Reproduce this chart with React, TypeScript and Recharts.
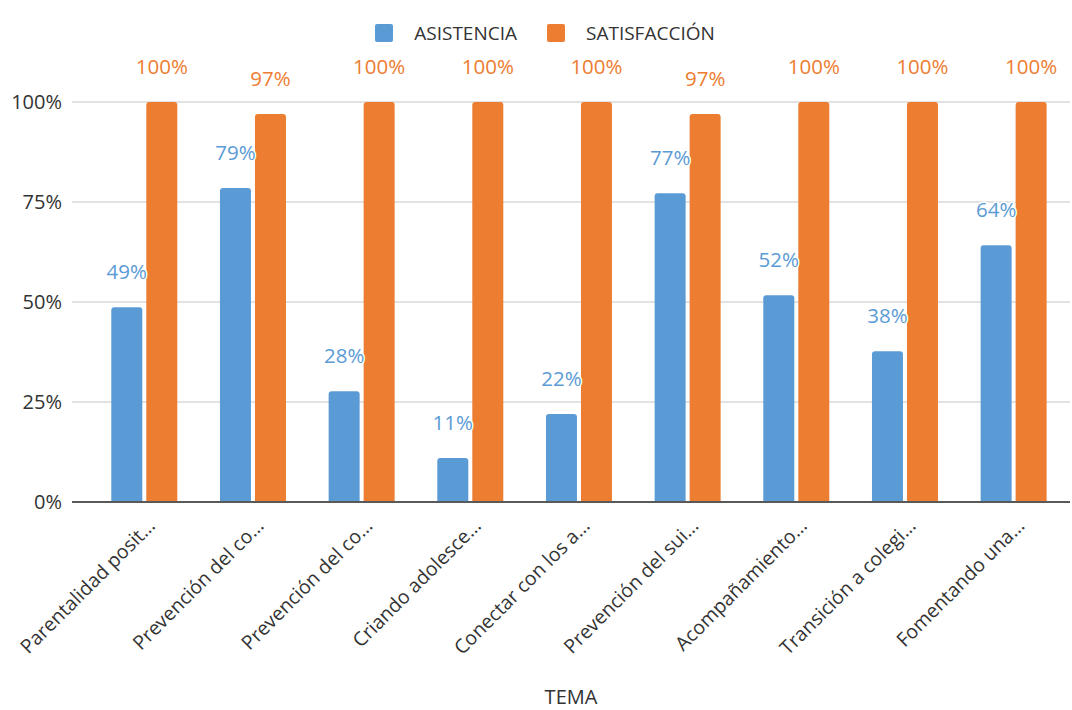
import React from 'react';
import { BarChart, Bar, XAxis, YAxis, CartesianGrid, Legend, LabelList } from 'recharts';

const temas = [
  'Parentalidad posit…',
  'Prevención del co…',
  'Prevención del co…',
  'Criando adolesce…',
  'Conectar con los a…',
  'Prevención del sui…',
  'Acompañamiento…',
  'Transición a colegi…',
  'Fomentando una…',
];
const asistencia = [0.487, 0.785, 0.277, 0.11, 0.22, 0.772, 0.517, 0.377, 0.642];
const satisfaccion = [1, 0.97, 1, 1, 1, 0.97, 1, 1, 1];
const yTicks = [0, 0.25, 0.5, 0.75, 1];

const BLUE = '#5B9BD5';
const ORANGE = '#ED7D31';
const FONT = '"Open Sans", "Noto Sans", sans-serif';

const data = temas.map((tema, i) => ({
  key: `${i}`,
  tema,
  asistencia: asistencia[i],
  satisfaccion: satisfaccion[i],
}));

const TemaTick = ({ x, y, payload, index }: any) => {
  const tx = x + 12;
  const ty = y + 25;
  return (
    <text
      x={tx}
      y={ty}
      transform={`rotate(-45, ${tx}, ${ty})`}
      textAnchor="end"
      fontSize={19.5}
      fill="#333"
      fontFamily={FONT}
    >
      {temas[index] ?? payload.value}
    </text>
  );
};

const makeLabel = (color: string) => (props: any) => {
  const { x, y, width, value } = props;
  return (
    <text
      x={x + width / 2}
      y={y - 28}
      textAnchor="middle"
      fontSize={20.5}
      fontFamily={FONT}
      fill={color}
      stroke="#fff"
      strokeWidth={3}
      paintOrder="stroke"
    >
      {Math.round(value * 100)}%
    </text>
  );
};

const LegendBox = () => (
  <div style={{ display: 'flex', justifyContent: 'center', paddingLeft: 18, fontFamily: FONT, fontSize: 19, color: '#333' }}>
    {[
      { name: 'ASISTENCIA', color: BLUE },
      { name: 'SATISFACCIÓN', color: ORANGE },
    ].map((it, i) => (
      <div key={it.name} style={{ display: 'flex', alignItems: 'center', marginLeft: i ? 30 : 0 }}>
        <span style={{ width: 18, height: 18, background: it.color, borderRadius: 2, marginRight: 21, display: 'inline-block' }} />
        <span>{it.name}</span>
      </div>
    ))}
  </div>
);

export default function App() {
  return (
    <div style={{ position: 'absolute', left: 0, top: 0, background: '#fff' }}>
      <BarChart
        width={1072}
        height={710}
        data={data}
        margin={{ top: 102, right: 2, left: 0, bottom: 0 }}
        barCategoryGap="19.6%"
        barGap={4}
      >
        <CartesianGrid vertical={false} stroke="#d9d9d9" strokeWidth={1.5} />
        <XAxis
          dataKey="key"
          height={208}
          padding={{ left: 18, right: 2 }}
          tickSize={0}
          tickMargin={0}
          tickLine={false}
          axisLine={{ stroke: '#595959', strokeWidth: 2 }}
          tick={<TemaTick />}
          interval={0}
          label={{ value: 'TEMA', position: 'insideBottom', offset: 6, fontSize: 20, fill: '#333', fontFamily: FONT }}
        />
        <YAxis
          domain={[0, 1]}
          ticks={yTicks}
          width={72}
          tickSize={0}
          tickMargin={10}
          axisLine={false}
          tickLine={false}
          tickFormatter={(v: number) => `${Math.round(v * 100)}%`}
          tick={{ fontSize: 20, fill: '#333', fontFamily: FONT }}
        />
        <Legend
          layout="horizontal"
          verticalAlign="middle"
          align="center"
          wrapperStyle={{ top: 20, left: 0, width: 1072 }}
          content={<LegendBox />}
        />
        <Bar dataKey="asistencia" name="ASISTENCIA" fill={BLUE} radius={[3, 3, 0, 0]} isAnimationActive={false}>
          <LabelList dataKey="asistencia" content={makeLabel(BLUE)} />
        </Bar>
        <Bar dataKey="satisfaccion" name="SATISFACCIÓN" fill={ORANGE} radius={[3, 3, 0, 0]} isAnimationActive={false}>
          <LabelList dataKey="satisfaccion" content={makeLabel(ORANGE)} />
        </Bar>
      </BarChart>
    </div>
  );
}
